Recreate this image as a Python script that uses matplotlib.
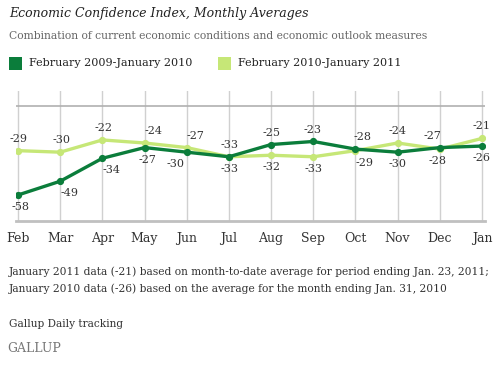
import matplotlib
matplotlib.use("Agg")
import matplotlib.pyplot as plt
from matplotlib.patches import Rectangle

months = ["Feb", "Mar", "Apr", "May", "Jun", "Jul", "Aug", "Sep", "Oct", "Nov", "Dec", "Jan"]
series_2009 = [-58, -49, -34, -27, -30, -33, -25, -23, -28, -30, -27, -26]
series_2010 = [-29, -30, -22, -24, -27, -33, -32, -33, -29, -24, -28, -21]
label_2009 = "February 2009-January 2010"
label_2010 = "February 2010-January 2011"

# label placement tweaks (pixels) for the upper and lower label at each month
dx_up = [1, 1, 1, 9, 9, 1, 0, -1, 7, 0, -7, 0]
dx_dn = [3, 9, 9, 3, -11, 1, 0, 0, 9, 0, -2, 0]

W, H = 502, 365
fig = plt.figure(figsize=(W / 100, H / 100), dpi=100)
DARK = "#0b7d3b"
LIGHT = "#c6e777"
TXT = "#333333"
SERIF = "DejaVu Serif"

ax = fig.add_axes([16 / W, (H - 221) / H, (485 - 16) / W, (221 - 91) / H])
x = list(range(len(months)))
ax.set_xlim(-2 / 42.18, 11 + 3 / 42.18)
ax.set_ylim(-75, 10)
for xi in x:
    ax.axvline(xi, color="#d0d0d0", lw=1.0, zorder=0)
ax.axhline(0, color="#b0b0b0", lw=1.2, zorder=1)
for s in ["top", "right", "left"]:
    ax.spines[s].set_visible(False)
ax.spines["bottom"].set_color("#c0c0c0")
ax.spines["bottom"].set_linewidth(2)
ax.set_yticks([])
ax.set_xticks(x)
ax.set_xticklabels(months, fontfamily=SERIF, fontsize=9, color=TXT)
ax.tick_params(axis="x", length=0, pad=8)

ax.plot(x, series_2009, color=DARK, lw=2.4, marker="o", ms=4.2, zorder=4, solid_joinstyle="round")
ax.plot(x, series_2010, color=LIGHT, lw=2.4, marker="o", ms=4.2, zorder=3, solid_joinstyle="round")

for i in x:
    a, b = series_2009[i], series_2010[i]
    up_val, dn_val = max(a, b), min(a, b)
    ax.annotate(str(up_val), (i, up_val), xytext=(dx_up[i] * 0.72, 5), textcoords="offset points",
                ha="center", va="bottom", fontfamily=SERIF, fontsize=8, color=TXT)
    ax.annotate(str(dn_val), (i, dn_val), xytext=(dx_dn[i] * 0.72, -5), textcoords="offset points",
                ha="center", va="top", fontfamily=SERIF, fontsize=8, color=TXT)

def fy(py):
    return 1 - py / H

def fx(px):
    return px / W

fig.text(fx(9), fy(14), "Economic Confidence Index, Monthly Averages", fontfamily=SERIF,
         style="italic", fontsize=9, color="#222222", va="center", ha="left")
fig.text(fx(9), fy(36), "Combination of current economic conditions and economic outlook measures",
         fontfamily=SERIF, fontsize=7.75, color="#666666", va="center", ha="left")

for sx, col, lab in [(9, DARK, label_2009), (218, LIGHT, label_2010)]:
    fig.patches.append(Rectangle((fx(sx), fy(70)), 13 / W, 13 / H, transform=fig.transFigure,
                                 facecolor=col, edgecolor="none"))
    fig.text(fx(sx + 20), fy(63), lab, fontfamily=SERIF, fontsize=8.0, color="#222222",
             va="center", ha="left")

fig.text(fx(9), fy(272), "January 2011 data (-21) based on month-to-date average for period ending Jan. 23, 2011;",
         fontfamily=SERIF, fontsize=7.7, color=TXT, va="center", ha="left")
fig.text(fx(9), fy(289), "January 2010 data (-26) based on the average for the month ending Jan. 31, 2010",
         fontfamily=SERIF, fontsize=7.7, color=TXT, va="center", ha="left")
fig.text(fx(9), fy(324), "Gallup Daily tracking", fontfamily=SERIF, fontsize=7.6, color=TXT,
         va="center", ha="left")
fig.text(fx(7), fy(349), "GALLUP", fontfamily=SERIF, fontsize=9, color="#777777",
         va="center", ha="left")

fig.savefig("out.png", dpi=100)
